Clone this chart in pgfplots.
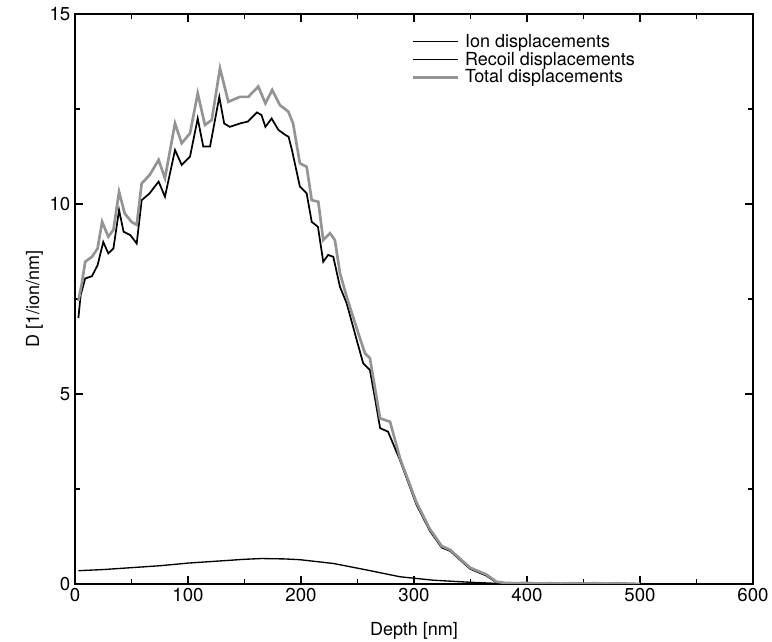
\documentclass[border=0pt]{standalone}
\usepackage{fontspec}
\setmainfont{TeX Gyre Heros}
\usepackage{pgfplots}
\pgfplotsset{compat=1.18}
\begin{document}
\begin{tikzpicture}
\useasboundingbox (-56.25pt,-43.5pt) rectangle (522.75pt,438pt);
\begin{axis}[
  at={(0,0)}, anchor=south west,
  scale only axis, width=508.5pt, height=427.5pt,
  xmin=0, xmax=600, ymin=0, ymax=15,
  xtick={0,100,...,600}, ytick={0,5,10,15},
  minor xtick={50,150,...,550}, minor ytick={2.5,7.5,12.5},
  tick align=inside,
  major tick length=6pt, minor tick length=3.5pt,
  axis line style={line width=0.9pt},
  every tick/.style={black, line width=0.8pt},
  /pgf/number format/assume math mode=true,
  tick label style={font=\fontsize{14}{16}\selectfont},
  label style={font=\fontsize{13.5}{16}\selectfont},
  xlabel={Depth [nm]}, ylabel={D [1/ion/nm]},
  xlabel style={yshift=-8pt},
  ylabel style={yshift=-2pt},
  legend style={at={(0.49,0.972)}, anchor=north west, draw=none, fill=none,
    font=\fontsize{13.5}{16}\selectfont, row sep=0pt,
    nodes={inner ysep=1pt, inner xsep=4pt}},
  legend cell align=left,
  legend image code/.code={\draw[#1] (0cm,0cm) -- (1.2cm,0cm);},
]
\addplot[black, line width=1pt] coordinates {
(3,0.35) (25,0.38) (50,0.43) (75,0.48) (100,0.55) (125,0.60) (150,0.65) (165,0.67)
(185,0.66) (199,0.64) (228.6,0.54) (258,0.37) (287.6,0.19) (317,0.10) (346.6,0.05)
(370,0.02) (400,0.005) (450,0) (500,0)
};
\addlegendentry{Ion displacements}
\addplot[black, line width=1.3pt] coordinates {
(3,7.0) (5,7.6) (9,8.04) (15,8.1) (20,8.39) (25,9.0) (29.5,8.7) (34,8.83) (39,9.84)
(43,9.27) (49,9.18) (54.6,8.96) (59,10.1) (66,10.28) (74,10.59) (79.6,10.19)
(88.5,11.42) (94.4,11.03) (101.8,11.25) (108.6,12.25) (113.5,11.51) (119.5,11.51)
(127.7,12.82) (132,12.12) (137,12.03) (146,12.12) (153,12.17) (161,12.41) (165,12.34)
(168.5,12.03) (174,12.25) (180,11.95) (186,11.82) (189,11.77) (192,11.42) (199,10.46)
(205,10.28) (209.5,9.53) (215,9.40) (219.7,8.48) (224,8.66) (228.6,8.61) (234.5,7.82)
(240.4,7.39) (249.3,6.42) (255,5.81) (261,5.63) (266,4.8) (270,4.10) (277,4.01)
(287.6,3.26) (302,2.10) (314,1.40) (324.5,0.96) (332,0.87) (349.6,0.40) (364,0.22)
(373,0.04) (380,0.02) (390,0.01) (400,0.02) (410,0.01) (420,0.0) (430,0.01) (440,0.0)
(450,0.01) (460,0.0) (470,0.01) (480,0.0) (490,0.01) (500,0.0)
};
\addlegendentry{Recoil displacements}
\addplot[black!42, line width=2pt] coordinates {
(3,7.45) (6,7.9) (9,8.48) (15,8.61) (20,8.83) (24,9.53) (29.5,9.14) (34,9.32) (39,10.32)
(44,9.75) (50,9.53) (54.6,9.45) (59,10.54) (66,10.76) (74,11.16) (79.6,10.68)
(88.5,12.12) (94.4,11.6) (101.8,11.86) (108.6,12.91) (115,12.08) (121,12.21)
(128.3,13.57) (135.7,12.69) (146,12.82) (153.4,12.82) (162.2,13.09) (168.5,12.65)
(174.5,13.0) (181.4,12.6) (188.8,12.43) (193,12.12) (199,11.07) (205,10.98) (209.5,10.1)
(215.3,10.06) (219.7,9.05) (225.7,9.23) (230,9.05) (234.5,8.18) (240.4,7.56) (250.7,6.6)
(256.6,6.07) (261,5.94) (270,4.36) (278.8,4.27) (287.6,3.31) (302,2.16) (314,1.45)
(324.5,1.0) (332,0.9) (349.6,0.43) (364,0.25) (373,0.06) (380,0.03) (390,0.02) (400,0.03)
(410,0.01) (420,0.02) (430,0.01) (440,0.02) (450,0.01) (460,0.02) (470,0.01) (480,0.02)
(490,0.01) (500,0.0)
};
\addlegendentry{Total displacements}
\end{axis}
\end{tikzpicture}
\end{document}
